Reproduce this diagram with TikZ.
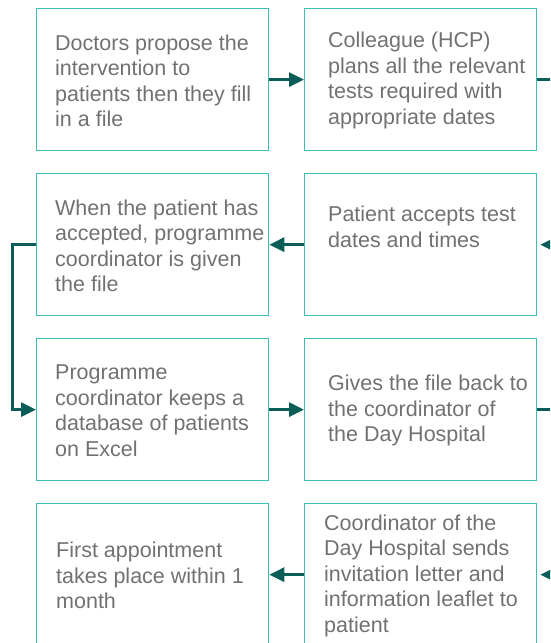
\documentclass[tikz,border=0pt]{standalone}
\usepackage{fontspec}
\setmainfont{Liberation Sans}
\usetikzlibrary{arrows.meta}
\definecolor{boxc}{HTML}{3BBFB5}
\definecolor{arrc}{HTML}{0B5E57}
\definecolor{txtc}{HTML}{717171}
\begin{document}
\begin{tikzpicture}[x=1pt,y=-1pt,
 box/.style={draw=boxc,line width=1.3pt,minimum width=232pt,minimum height=142pt,inner sep=0pt,anchor=north west},
 txt/.style={text=txtc,font=\fontsize{21.5}{25.5}\selectfont,align=left,inner sep=0pt,anchor=west},
 conn/.style={draw=arrc,line width=3pt,-{Triangle[length=15pt,width=14pt]}}]
\clip (0,0) rectangle (550,643);
\node[box] (b1) at (36,8) {};
\node[box] (b2) at (304,8) {};
\node[box] (b3) at (36,173) {};
\node[box] (b4) at (304,173) {};
\node[box] (b5) at (36,338) {};
\node[box] (b6) at (304,338) {};
\node[box] (b7) at (36,503) {};
\node[box] (b8) at (304,503) {};
\node[txt] (t1) at ([xshift=19pt,yshift=-1pt]b1.west) {Doctors propose the\\intervention to\\patients then they fill\\in a file};
\node[txt] (t2) at ([xshift=24pt,yshift=-1pt]b2.west) {Colleague (HCP)\\plans all the relevant\\tests required with\\appropriate dates};
\node[txt] (t3) at ([xshift=19pt,yshift=-1pt]b3.west) {When the patient has\\accepted, programme\\coordinator is given\\the file};
\node[txt] (t4) at ([xshift=24pt,yshift=18pt]b4.west) {Patient accepts test\\dates and times};
\node[txt] (t5) at ([xshift=19pt,yshift=-1pt]b5.west) {Programme\\coordinator keeps a\\database of patients\\on Excel};
\node[txt] (t6) at ([xshift=24pt,yshift=-1pt]b6.west) {Gives the file back to\\the coordinator of\\the Day Hospital};
\node[txt] (t7) at ([xshift=20pt,yshift=-1pt]b7.west) {First appointment\\takes place within 1\\month};
\node[txt] (t8) at ([xshift=20pt,yshift=-1pt]b8.west) {Coordinator of the\\Day Hospital sends\\invitation letter and\\information leaflet to\\patient};
\draw[conn] (b1.east) -- (b2.west);
\draw[conn] (b2.east) -- ++(25,0) |- ([xshift=3pt]b4.east);
\draw[conn] (b4.west) -- (b3.east);
\draw[conn] (b3.west) -- ++(-24,0) |- (b5.west);
\draw[conn] (b5.east) -- (b6.west);
\draw[conn] (b6.east) -- ++(25,0) |- ([xshift=3pt]b8.east);
\draw[conn] (b8.west) -- (b7.east);
\end{tikzpicture}
\end{document}
